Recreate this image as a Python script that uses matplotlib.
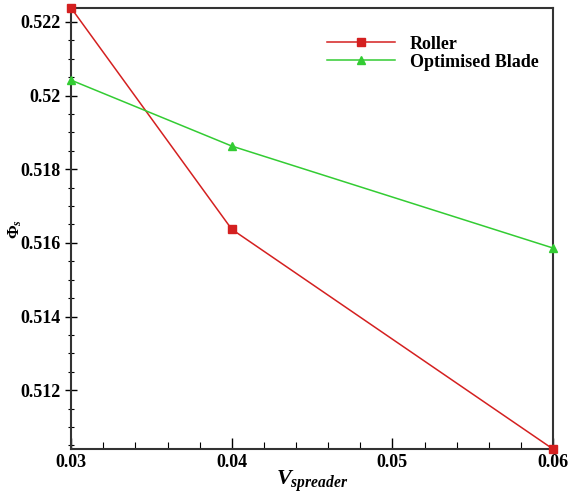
import numpy as np
import matplotlib
matplotlib.use("Agg")
import matplotlib.pyplot as plt
from matplotlib.ticker import MultipleLocator

# ================================================================================
v_spreader = [0.03, 0.04, 0.06]
phi_roller = [0.52238, 0.51637, 0.51040]
phi_blade = [0.52042, 0.51863, 0.51586]

plt.rcParams['font.family'] = ['Liberation Serif', 'DejaVu Serif']
plt.rcParams['font.weight'] = 'bold'
plt.rcParams['mathtext.fontset'] = 'custom'
plt.rcParams['mathtext.rm'] = 'Liberation Serif:bold'
plt.rcParams['mathtext.it'] = 'Liberation Serif:bold:italic'
plt.rcParams['mathtext.bf'] = 'Liberation Serif:bold'

# ================================================================================
fig = plt.figure(figsize=(5.69, 4.99), dpi=100)
ax0 = fig.add_axes([0.125, 0.10, 0.847, 0.884])

ax0.plot(v_spreader, phi_roller, color='#d42020', lw=1.1, marker='s', ms=6,
         label='Roller', clip_on=False, zorder=5)
ax0.plot(v_spreader, phi_blade, color='#33cc33', lw=1.1, marker='^', ms=6,
         label='Optimised Blade', clip_on=False, zorder=5)

ax0.set_xlim(0.03, 0.06)
ax0.set_ylim(0.5104, 0.52238)
ax0.xaxis.set_minor_locator(MultipleLocator(0.002))
ax0.yaxis.set_minor_locator(MultipleLocator(0.0005))
ax0.set_xticks([0.03, 0.04, 0.05, 0.06])
ax0.set_xticklabels(['0.03', '0.04', '0.05', '0.06'])
ax0.set_yticks([0.512, 0.514, 0.516, 0.518, 0.52, 0.522])
ax0.set_yticklabels(['0.512', '0.514', '0.516', '0.518', '0.52', '0.522'])

ax0.tick_params(axis='both', which='major', direction='inout', length=8,
                width=1.0, labelsize=13, top=False, right=False)
ax0.tick_params(axis='both', which='minor', direction='inout', length=5,
                width=0.8, top=False, right=False)
ax0.tick_params(axis='x', which='both', direction='in')
for s in ax0.spines.values():
    s.set_linewidth(1.5)
    s.set_color('#333333')

ax0.set_xlabel(r'$V_{spreader}$', fontsize=16)
ax0.xaxis.set_label_coords(0.5, -0.045)
ax0.set_ylabel(r'$\Phi_s$', fontsize=12)
ax0.yaxis.set_label_coords(-0.098, 0.5)

ax0.legend(loc='upper right', bbox_to_anchor=(1.0, 0.97), frameon=False,
           fontsize=13, handlelength=3.8, labelspacing=0.05, borderpad=0.3)

fig.savefig('out.png', dpi=100)
